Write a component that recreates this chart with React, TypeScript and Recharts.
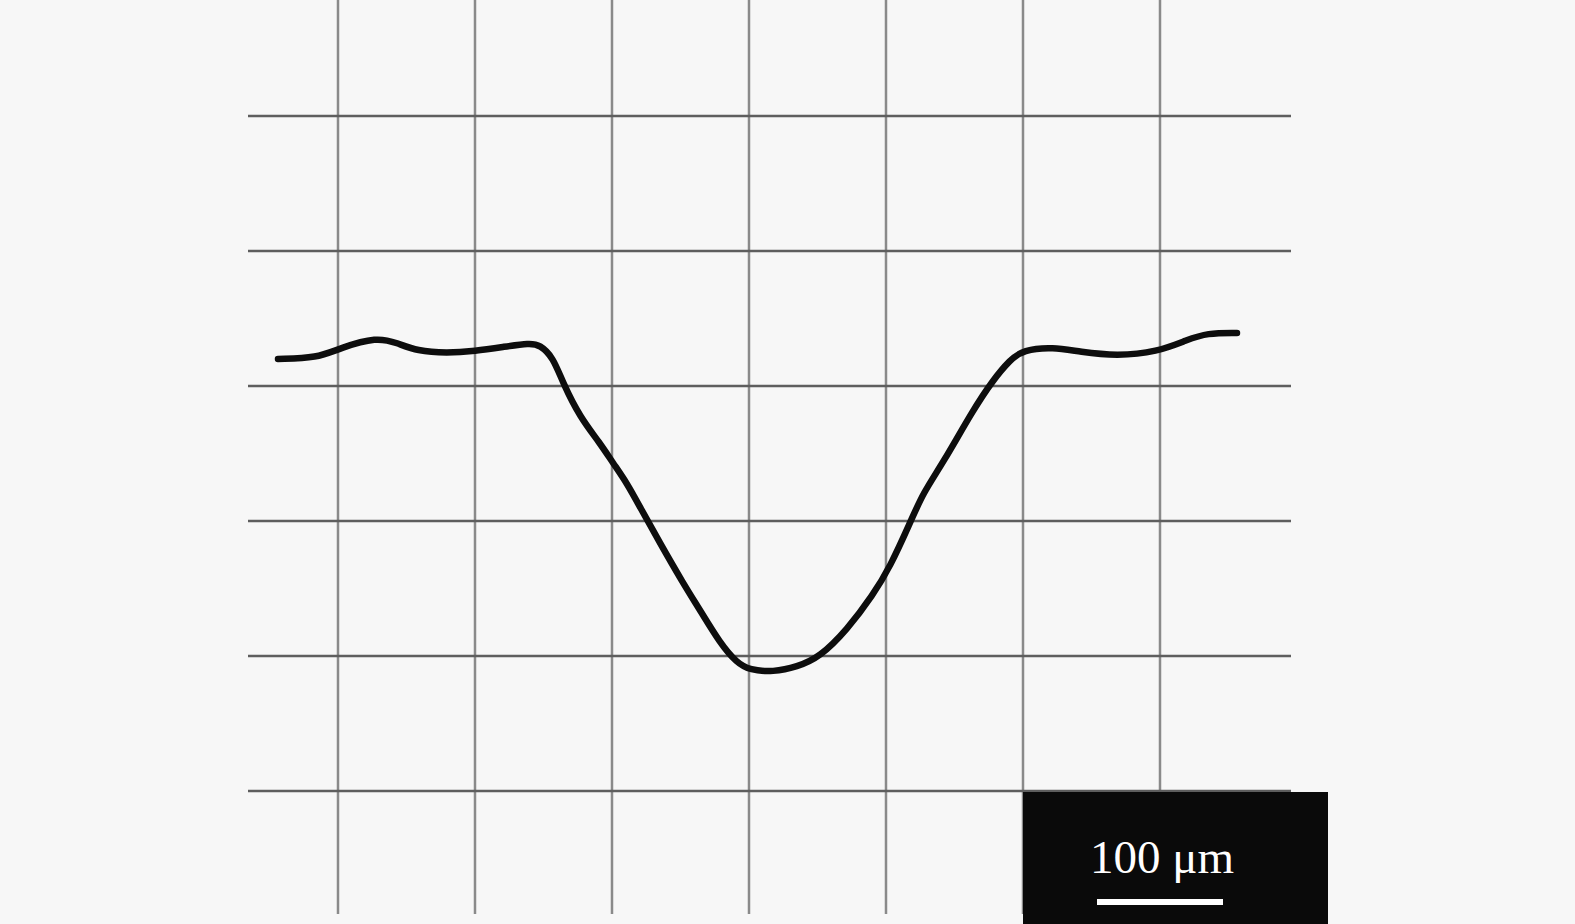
import React from "react";
import { LineChart, Line, XAxis, YAxis, ReferenceLine } from "recharts";

// Profile, in grid units (x: vertical grid index, y: horizontal grid index from bottom)
const profileX = [-0.438, -0.153, 0.015, 0.285, 0.431, 0.577, 0.796, 1.0, 1.204, 1.401, 1.474, 1.569, 1.642, 1.766, 1.912, 2.007, 2.109, 2.204, 2.35, 2.518, 2.642, 2.788, 2.912, 3.007, 3.175, 3.35, 3.518, 3.715, 3.905, 4.029, 4.175, 4.27, 4.416, 4.635, 4.781, 4.905, 5.0, 5.219, 5.416, 5.686, 5.978, 6.197, 6.343, 6.562];
const profileY = [3.2, 3.207, 3.281, 3.363, 3.319, 3.259, 3.244, 3.259, 3.289, 3.319, 3.304, 3.215, 3.022, 2.77, 2.578, 2.43, 2.281, 2.104, 1.837, 1.541, 1.341, 1.096, 0.948, 0.896, 0.881, 0.919, 0.993, 1.193, 1.452, 1.659, 1.985, 2.207, 2.43, 2.822, 3.044, 3.193, 3.267, 3.289, 3.252, 3.222, 3.252, 3.341, 3.393, 3.393];

const verticalGrid = [0, 1, 2, 3, 4, 5, 6];
const horizontalGrid = [0, 1, 2, 3, 4, 5];
const scaleLabel = "100 μm";

const data = profileX.map((x, i) => ({ x, y: profileY[i] }));

export default function App() {
  return (
    <div style={{ position: "absolute", left: 0, top: 0, width: 1575, height: 924, background: "#f7f7f7", overflow: "hidden" }}>
      <LineChart width={1575} height={924} data={data} margin={{ top: 0, left: 248, right: 284, bottom: 10 }}>
        <XAxis dataKey="x" type="number" domain={[-0.6569, 6.9562]} hide allowDataOverflow />
        <YAxis type="number" domain={[-0.9111, 5.8593]} hide allowDataOverflow width={0} />
        {verticalGrid.map((v) => (
          <ReferenceLine key={"v" + v} x={v} stroke="#8a8a8a" strokeWidth={2.5} />
        ))}
        {horizontalGrid.map((h) => (
          <ReferenceLine key={"h" + h} y={h} stroke="#5e5e5e" strokeWidth={2.5} />
        ))}
        <Line dataKey="y" type="basis" stroke="#0d0d0d" strokeWidth={6.5} strokeLinecap="round" strokeLinejoin="round" dot={false} isAnimationActive={false} />
      </LineChart>
      <svg width={305} height={132} style={{ position: "absolute", left: 1023, top: 792 }}>
        <rect x={0} y={0} width={305} height={132} fill="#0a0a0a" />
        <text x={139} y={81} textAnchor="middle" fill="#ffffff" fontFamily="'Liberation Serif', 'Times New Roman', serif" fontSize={47}>
          {scaleLabel}
        </text>
        <rect x={74} y={107} width={126} height={6} fill="#ffffff" />
      </svg>
    </div>
  );
}
